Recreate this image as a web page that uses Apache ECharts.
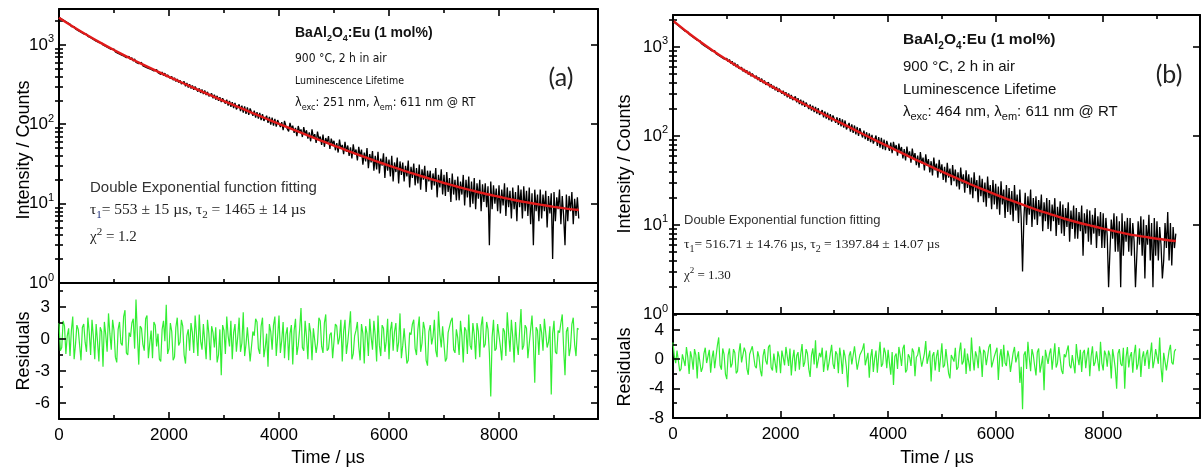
<!DOCTYPE html>
<html><head><meta charset="utf-8">
<script src="https://cdn.jsdelivr.net/npm/echarts@6.0.0/dist/echarts.min.js"></script>
<style>html,body{margin:0;padding:0;background:#fff}#c{width:1203px;height:471px}</style>
</head><body><div id="c"></div>
<script>
// ---------------- data ----------------
const stepUs = 25; // sampling step of the measured traces (µs)

// (a) measured decay (counts), t = 0, 25, 50 ... µs
const decayA = [
 2230,2120,2110,2000,2010,1900,1910,1810,1830,1700,
 1680,1700,1590,1620,1510,1545,1440,1470,1375,1400,
 1365,1280,1300,1230,1250,1170,1190,1115,1140,1070,
 1040,1060,995,1025,955,985,915,945,875,905,
 885,815,850,780,820,750,785,725,755,690,
 680,715,650,690,625,665,600,635,580,610,
 600,545,575,525,555,505,535,490,515,470,
 460,490,445,470,425,455,410,440,395,420,
 410,375,400,360,385,345,372,335,358,322,
 315,345,300,332,290,320,282,308,272,298,
 292,258,283,248,275,240,266,233,256,225,
 220,245,212,236,204,228,197,219,190,212,
 210,182,204,172,197,166,190,160,186,154,
 152,178,146,172,140,168,135,163,131,158,
 150,128,148,121,142,118,139,113,134,110,
 108,128,104,124,99,121,96,117,93,113,
 112,92,106,84,110,95,100,81,104,88,
 96,78,90,71,95,80,86,69,92,74,
 84,66,79,61,86,68,75,58,81,64,
 70,55,74,52,67,58,71,49,66,56,
 62,47,58,44,64,49,55,42,60,45,
 54,40,51,37,56,42,48,35,52,39,
 48,31,44,34,50,28,42,33,46,26,
 40,27,45,24,37,30,43,21,39,26,
 36,22,40,19,33,25,38,18,34,23,
 33,19,30,22,35,16,29,21,32,17,
 28,18,31,15,27,20,30,14,26,19,
 26,15,24,17,28,12,23,16,27,13,
 23,12.5,25,14,21,10.5,24,13,20,11,
 22,11,19,13,23,9.5,20,12,22,9,
 19,10,21,8.5,18,11.5,20,8,17.5,10.5,
 18,9,16.5,3.0,19,8.5,17,10,15.5,8,
 17,7.5,15,9.5,18,7,16,9,14.5,6.5,
 16,8.5,14,6,17,9,15,6.5,16.5,8,
 14.5,7,16,5.5,13.5,3.0,15,8,13,6,
 15,6.5,13,8,14.5,5,12.5,7.5,13.5,2.0,
 14,6,12,8.5,15,5.5,12.5,7,3.0,13,
 6,12.5,8,14,5.5,11.5,7,12,6.5
];
// (a) fitted double-exponential curve
const fitTimesA = [0,250,500,750,1000,1250,1500,1750,2000,2250,2500,2750,3000,3250,3500,3750,4000,4250,4500,4750,5000,5250,5500,5750,6000,6250,6500,6750,7000,7250,7500,7750,8000,8250,8500,8750,9000,9250,9450];
const fitA = [2200,1702,1338,1067,861,701,576,477,396,331,277,233,196,166,140,119,101,86,73.4,62.8,53.8,46.3,40.0,34.6,30.1,26.3,23.2,20.5,18.2,16.3,14.7,13.3,12.2,11.2,10.4,9.7,9.1,8.6,8.3];
// (a) residuals
const residA = [
 1.5,-1.1,-0.8,1.7,1.2,-1.4,0.3,1.0,-1.6,0.8,2.1,-1.9,-0.5,1.3,0.9,-0.6,-2.0,1.1,1.4,-0.3,
 -1.2,2.0,0.6,-1.5,1.8,0.2,-1.9,1.4,-0.2,-2.1,1.1,0.7,-2.6,1.6,0.4,-1.2,2.4,0.5,-1.0,1.8,
 0.8,-1.7,-2.2,0.9,1.6,-0.4,-0.6,2.1,2.7,-1.3,-1.5,0.6,0.2,1.5,1.9,-0.9,3.7,0.4,-2.4,1.2,
 1.0,-0.5,-1.1,1.9,2.2,-1.8,-0.4,0.8,-1.8,1.6,1.3,-0.7,0.5,-1.9,-2.1,0.9,1.7,-0.2,3.2,-1.4,
 -0.9,1.5,0.7,-2.0,-1.7,1.1,2.0,-0.6,-0.3,1.8,1.2,-1.5,-2.3,0.3,0.9,-1.1,1.5,0.6,-1.3,2.2,
 0.4,-1.6,2.3,-0.2,-1.0,1.4,-0.2,-1.9,1.8,0.5,-2.0,1.2,0.6,-0.8,1.1,-2.2,-1.5,0.9,-3.4,1.3,
 0.8,-1.4,2.1,0.3,-0.7,1.7,-1.9,0.6,1.4,-1.2,0.2,2.0,-1.2,-0.4,2.5,-1.6,-0.5,1.1,1.0,-2.1,
 -2.2,0.7,0.3,1.9,1.6,-0.9,-1.4,1.2,2.0,-1.7,-0.8,0.5,-2.6,1.4,0.7,-1.0,1.3,2.1,-1.6,0.2,
 2.2,-1.3,-0.1,1.6,-1.8,0.4,1.1,-2.0,0.5,1.3,-2.4,0.8,1.9,-1.5,-0.6,0.9,2.9,-0.8,-1.1,1.7,
 0.2,-1.9,1.5,0.6,-2.0,1.0,0.9,-1.3,-0.4,2.0,1.7,-0.7,-1.3,1.5,2.3,-1.1,-0.9,0.4,0.6,-1.8,
 -1.7,1.4,1.2,-0.5,0.1,1.8,-2.1,0.7,1.8,-1.4,-0.3,1.1,2.6,-1.9,-1.4,0.3,0.8,1.6,-0.7,-2.0,
 1.4,0.5,-2.3,1.2,0.5,-1.6,1.9,0.2,-1.0,1.7,0.3,-2.1,2.2,-0.6,-1.6,1.3,1.0,-1.2,-0.2,1.9,
 -1.9,0.8,1.6,-1.1,0.7,1.5,-1.2,-0.3,2.4,-1.8,-0.6,1.0,1.1,-2.3,-2.0,0.6,0.4,1.4,1.8,-0.9,
 -1.5,0.9,2.1,-1.2,-0.4,1.6,0.9,-2.0,-2.5,0.7,1.3,-0.5,0.2,1.8,-1.1,-1.7,2.6,0.4,-0.8,1.2,
 1.2,-2.1,-1.8,0.6,0.6,1.7,2.0,-1.0,-1.3,0.9,0.1,-1.5,1.7,0.3,-2.2,1.1,0.8,-1.4,2.3,-0.6,
 -1.0,1.5,0.4,-1.9,1.5,0.7,-1.7,1.2,2.1,-0.8,-0.5,1.6,0.9,-1.3,-5.4,0.2,1.8,-1.1,-0.9,1.4,
 1.3,-0.7,-2.0,1.0,0.7,-1.6,2.5,0.5,-1.2,1.8,0.2,-2.2,1.6,-0.4,-1.5,0.8,2.8,-1.0,-0.6,1.3,
 1.0,-1.8,-1.9,0.9,2.2,-0.3,-4.1,1.1,0.8,-1.5,1.4,0.6,-1.1,1.9,2.0,-0.8,-0.3,1.2,-5.2,0.5,
 1.7,-1.2,-1.4,0.8,0.6,1.5,2.3,-0.9,-3.4,0.7,1.1,-1.6,-0.8,1.4,2.0,-0.5,-1.6,1.0,0.9
];

// (b) measured decay
const decayB = [
 2000,1880,1890,1780,1790,1680,1690,1590,1600,1500,
 1465,1480,1385,1410,1315,1340,1250,1270,1185,1205,
 1175,1095,1120,1040,1065,990,1015,945,970,900,
 880,905,840,865,800,825,765,790,730,755,
 745,680,720,650,690,620,660,595,635,570,
 555,590,530,565,510,545,490,525,468,500,
 490,445,475,425,455,405,440,392,420,375,
 368,400,352,382,340,365,325,355,312,340,
 335,298,322,284,310,272,300,262,288,252,
 245,278,238,265,228,255,220,248,212,238,
 232,200,226,192,218,185,212,178,205,172,
 168,195,162,188,156,182,150,176,145,170,
 165,140,162,133,158,128,153,124,149,118,
 116,140,112,135,108,131,104,126,100,122,
 118,96,115,92,110,88,107,85,103,82,
 80,101,77,97,74,95,71,91,69,88,
 88,68,84,64,86,70,79,60,82,66,
 75,56,71,53,76,58,67,50,72,55,
 64,47,60,44,66,49,57,41,62,46,
 55,39,52,36,57,41,49,34,54,38,
 48,32,45,30,50,34,43,28,47,31,
 42,27,39,25,44,29,37,23,41,26,
 37,22,34,20,39,24,32,18,36,21,
 33,18,30,16,35,20,28,15,32,17,
 29,15,27,13,31,17,25,12,28,14,
 26,13,24,11,28,14.5,22,10.5,25,12,
 3.0,12,23,10,21,13,25,9.5,20,11.5,
 21,10,19,12.5,22,8.5,18,11,20,9,
 19,8.5,17,11,20,7.5,16,10,18.5,8,
 17,7.5,15.5,9.5,18,6.5,14.5,9,16.5,7,
 15.5,7,14,8.5,16.5,4.5,13.5,8,15,6.5,
 14.5,6,13,8,15.5,5.5,12.5,7.5,14,5.5,
 13.5,5.5,12,7.5,2.0,5,11.5,7,13.5,5,
 12.5,5,11,2.0,13.5,4.5,11,6.5,12,5,
 12,4.5,10.5,6.5,2.0,4.5,11,6,12.5,4.5,
 11.5,2.5,10,6,13,4,10.5,2.0,12,4.5,
 11,4,9.5,6,2.5,4,10.5,5.5,14,4,
 10.5,3.5,9.5,5.5,8
];
const fitTimesB = [0,250,500,750,1000,1250,1500,1750,2000,2250,2500,2750,3000,3250,3500,3750,4000,4250,4500,4750,5000,5250,5500,5750,6000,6250,6500,6750,7000,7250,7500,7750,8000,8250,8500,8750,9000,9250,9350];
const fitB = [1970,1489,1148,900,716,577,469,384,317,262,218,182,152,128,107,90.3,76.2,64.5,54.6,46.5,39.7,34.0,29.2,25.3,21.9,19.2,16.9,14.9,13.3,11.9,10.8,9.9,9.1,8.4,7.8,7.4,7.0,6.7,6.6];
const residB = [
 2.3,0.4,-0.5,1.2,1.1,-1.6,-1.3,0.7,0.6,-0.9,1.7,0.3,-2.0,1.1,0.2,-1.4,1.4,0.6,-2.6,1.0,
 0.9,-1.7,-1.1,0.8,1.6,-0.5,-0.3,1.3,-1.8,0.2,1.2,-1.2,0.4,1.9,3.0,-0.8,-1.4,1.5,0.7,-2.0,
 -2.7,0.6,1.5,-1.1,-0.6,1.4,0.9,-1.9,-1.6,0.9,2.2,-0.4,-0.2,1.6,1.0,-1.3,-2.1,0.7,0.5,1.8,
 1.8,-0.9,-1.2,1.1,0.3,-1.5,-2.3,0.5,1.4,-0.2,-0.7,1.7,2.0,-1.1,-1.5,0.8,0.6,-1.8,1.1,0.3,
 -1.9,1.2,0.2,-0.8,1.7,0.4,-0.9,1.5,-2.2,0.1,1.3,-1.6,0.5,1.0,-1.4,0.7,2.1,-1.0,-0.4,1.4,
 0.8,-1.3,-2.4,0.6,1.5,-0.7,2.6,-1.2,-1.1,0.9,0.3,1.6,-1.7,-0.2,1.2,-1.5,-0.5,0.8,2.0,-0.6,
 -1.3,1.1,0.7,-1.9,1.6,0.2,-2.0,1.3,0.4,-1.1,-3.8,0.5,1.1,-0.7,-0.8,1.8,1.9,-1.4,-1.6,0.6,
 0.5,1.4,2.2,-0.8,-1.0,0.9,-2.5,0.3,1.4,-1.7,0.1,1.2,-1.8,0.5,2.4,-1.0,-0.6,1.6,0.9,-1.2,
 1.3,-0.5,-2.1,1.0,-3.5,0.4,0.8,-1.3,1.7,0.6,-0.9,1.5,2.0,-1.8,-1.4,0.7,0.3,-0.9,1.5,1.0,
 -2.3,0.3,0.6,1.7,1.9,-1.0,-1.2,0.8,2.5,-0.6,-0.4,1.2,-3.0,0.5,1.0,-1.5,0.4,1.3,-1.7,0.2,
 2.2,-1.1,-0.8,1.4,1.2,-1.9,-2.6,0.6,0.7,-0.3,1.6,-1.4,-1.1,1.0,2.3,-0.7,-0.3,1.5,-2.0,0.8,
 0.9,-1.6,3.0,0.2,-1.5,1.1,0.4,-1.2,1.8,0.7,-2.4,1.3,1.0,-0.8,-0.6,1.7,2.1,-1.1,-1.3,0.4,
 0.5,1.6,-2.8,0.3,1.4,-1.0,2.0,-0.5,-0.9,1.2,0.3,-1.7,-1.9,0.9,1.7,-0.4,-0.2,1.1,-3.2,-1.0,
 -6.8,0.6,1.1,-1.3,2.4,0.2,-1.6,1.4,0.6,-0.9,-2.2,1.0,1.5,-1.8,-0.7,0.5,-4.2,1.3,1.2,-0.6,
 0.8,1.5,-1.4,0.4,2.2,-1.1,-0.5,1.7,1.6,-1.5,-2.0,0.7,0.3,1.2,1.9,-0.8,-1.2,0.6,0.7,-1.9,
 2.1,0.3,-0.8,1.3,-1.7,0.9,1.3,-1.2,0.5,1.6,-2.3,0.4,1.8,-0.9,-0.4,1.1,1.0,-1.6,2.4,-0.5,
 -1.5,1.2,0.6,-1.0,1.2,0.5,-2.6,1.4,0.2,-1.3,-4.0,0.8,1.4,-0.6,-0.9,1.6,-4.0,0.3,1.7,-1.1,
 0.4,1.0,-1.8,0.7,2.0,-1.4,-0.6,1.5,-2.4,0.2,1.1,-0.9,0.7,1.3,-1.3,0.6,2.3,-1.2,-0.2,1.4,
 1.5,-0.6,3.0,-1.1,-3.1,0.9,0.8,-1.5,-1.6,1.2,2.0,-0.4,-0.7,1.1,1.4
];

// axis ticks / labels
const timeLabels = [0,2000,4000,6000,8000];
const timeMinor = [1000,3000,5000,7000,9000];
const logLabels = [1,10,100,1000];
const logMinorTicks = [2,3,4,5,6,7,8,9,20,30,40,50,60,70,80,90,200,300,400,500,600,700,800,900,2000];
const residLabelsA = [-6,-3,0,3];
const residMinorA = [-4.5,-1.5,1.5,4.5];
const residLabelsB = [-8,-4,0,4];
const residMinorB = [-6,-2,2,6];

// ---------------- chart ----------------
const FONT = '"Liberation Sans", Arial, sans-serif';
const SERIF = '"Liberation Serif", "Times New Roman", serif';
const TIME_MAX = 9800;

const grid = [
  {left:59, top:9, width:539, height:274},
  {left:59, top:283, width:539, height:136},
  {left:673, top:15, width:527, height:299},
  {left:673, top:314, width:527, height:104}
].map(g => Object.assign({show:false, containLabel:false, outerBoundsMode:'none'}, g));

const xAxis = [], yAxis = [];
const lineOn = () => ({show:true, onZero:false, lineStyle:{color:'#000', width:2}});
const tk = (len, extra) => Object.assign({show:true, inside:true, length:len, lineStyle:{color:'#000', width:1.6}}, extra || {});

function addX(gi, position, opts) {
  xAxis.push(Object.assign({gridIndex:gi, type:'value', min:0, max:TIME_MAX, position, interval:2000,
    splitLine:{show:false}, axisLine:lineOn(), axisTick:{show:false}, axisLabel:{show:false}}, opts));
  return xAxis.length - 1;
}
function frameX(gi, labelled) {
  const main = addX(gi, 'bottom', {
    axisLabel: labelled ? {show:true, customValues:timeLabels, formatter:v => String(v), fontSize:17, color:'#000', fontFamily:FONT, margin:8} : {show:false}});
  addX(gi, 'top', {});
  return main;
}
function addY(gi, position, opts) {
  yAxis.push(Object.assign({gridIndex:gi, position, splitLine:{show:false}, axisLine:lineOn(), axisTick:{show:false}, axisLabel:{show:false}}, opts));
  return yAxis.length - 1;
}
const logLabel = {show:true, customValues:logLabels, margin:5,
  formatter: v => '{b|10}{s|' + Math.round(Math.log10(v)) + '}',
  rich:{b:{fontSize:17, fontFamily:FONT, color:'#000', lineHeight:22}, s:{fontSize:11, fontFamily:FONT, color:'#000', verticalAlign:'top', lineHeight:12}}};
function frameLogY(gi, max) {
  const base = {type:'log', logBase:10, min:1, max};
  const main = addY(gi, 'left', Object.assign({}, base, {axisTick:tk(7, {customValues:logLabels}), axisLabel:logLabel}));
  addY(gi, 'right', Object.assign({}, base, {axisTick:tk(7, {customValues:logLabels})}));
  addY(gi, 'left', Object.assign({}, base, {axisLine:{show:false}, axisTick:tk(4, {customValues:logMinorTicks})}));
  addY(gi, 'right', Object.assign({}, base, {axisLine:{show:false}, axisTick:tk(4, {customValues:logMinorTicks})}));
  return main;
}
function frameResY(gi, min, max, labels) {
  const base = {type:'value', min, max};
  const lab = {show:true, customValues:labels, margin:9, fontSize:17, fontFamily:FONT, color:'#000'};
  const main = addY(gi, 'left', Object.assign({}, base, {axisLabel:lab}));
  addY(gi, 'right', Object.assign({}, base));
  return main;
}

const xa0 = frameX(0, false);
const xa1 = frameX(1, true);
const xb0 = frameX(2, false);
const xb1 = frameX(3, true);
const ya0 = frameLogY(0, 2830);
const ya1 = frameResY(1, -7.5, 5.25, residLabelsA);
const yb0 = frameLogY(2, 2280);
const yb1 = frameResY(3, -8, 6.2, residLabelsB);

// tick marks placed through the axes' own scales (api.coord)
function tickSeries(xIdx, yIdx, xRef, yRef, items, sides) {
  return {type:'custom', xAxisIndex:xIdx, yAxisIndex:yIdx, silent:true, z:6, clip:false, animation:false,
    data:items,
    renderItem:(params, api) => {
      const cs = params.coordSys;
      const v = api.value(0), len = api.value(1), orient = api.value(2);
      const st = {stroke:'#000', lineWidth:1.6};
      const ch = [];
      if (orient === 0) {
        const px = Math.round(api.coord([v, yRef])[0]);
        const yb = cs.y + cs.height, yt = cs.y;
        if (sides.bottom) ch.push({type:'line', shape:{x1:px, y1:yb, x2:px, y2:yb - len}, style:st});
        if (sides.top) ch.push({type:'line', shape:{x1:px, y1:yt, x2:px, y2:yt + len}, style:st});
      } else {
        const py = Math.round(api.coord([xRef, v])[1]);
        const xl = cs.x, xr = cs.x + cs.width;
        ch.push({type:'line', shape:{x1:xl, y1:py, x2:xl + len, y2:py}, style:st});
        ch.push({type:'line', shape:{x1:xr, y1:py, x2:xr - len, y2:py}, style:st});
      }
      return {type:'group', children:ch};
    }};
}
const xTickItems = timeLabels.map(v => [v, 7, 0]).concat(timeMinor.map(v => [v, 4, 0]));
const yTickItems = (maj, mnr) => maj.map(v => [v, 7, 1]).concat(mnr.map(v => [v, 4, 1]));

const pairsStep = arr => arr.map((v, i) => [i * stepUs, v]);
const pairsT = (ts, arr) => arr.map((v, i) => [ts[i], v]);

const series = [
  {type:'line', xAxisIndex:xa0, yAxisIndex:ya0, data:pairsStep(decayA), showSymbol:false, lineStyle:{color:'#000', width:1.3}, z:2},
  {type:'line', xAxisIndex:xa0, yAxisIndex:ya0, data:pairsT(fitTimesA, fitA), smooth:0.3, showSymbol:false, lineStyle:{color:'#e01a1a', width:2.4}, z:3},
  {type:'line', xAxisIndex:xa1, yAxisIndex:ya1, data:pairsStep(residA), showSymbol:false, lineStyle:{color:'#33ee33', width:1.2}, z:2},
  {type:'line', xAxisIndex:xb0, yAxisIndex:yb0, data:pairsStep(decayB), showSymbol:false, lineStyle:{color:'#000', width:1.3}, z:2},
  {type:'line', xAxisIndex:xb0, yAxisIndex:yb0, data:pairsT(fitTimesB, fitB), smooth:0.3, showSymbol:false, lineStyle:{color:'#e01a1a', width:2.4}, z:3},
  {type:'line', xAxisIndex:xb1, yAxisIndex:yb1, data:pairsStep(residB), showSymbol:false, lineStyle:{color:'#33ee33', width:1.2}, z:2}
].map(s => Object.assign({silent:true, animation:false}, s)).concat([
  tickSeries(xa0, ya0, 0, 1, xTickItems, {top:true, bottom:true}),
  tickSeries(xa1, ya1, 0, 0, xTickItems.concat(yTickItems(residLabelsA, residMinorA)), {top:false, bottom:true}),
  tickSeries(xb0, yb0, 0, 1, xTickItems, {top:true, bottom:true}),
  tickSeries(xb1, yb1, 0, 0, xTickItems.concat(yTickItems(residLabelsB, residMinorB)), {top:false, bottom:true})
]);

function txt(x, y, text, st, extra) {
  return Object.assign({type:'text', x, y, silent:true, z:50,
    style:Object.assign({text, fill:'#111', fontFamily:FONT, fontSize:12, align:'left', verticalAlign:'middle'}, st)}, extra || {});
}
function vtxt(x, y, text, size) {
  return txt(x, y, text, {fontSize:size, align:'center', fill:'#000'}, {rotation:Math.PI/2});
}
const richHead = size => ({
  b:{fontSize:size, fontWeight:'bold', fontFamily:FONT, fill:'#111'},
  bs:{fontSize:Math.round(size*0.65), fontWeight:'bold', fontFamily:FONT, fill:'#111', verticalAlign:'bottom', padding:[0,0,-3,0]}
});
const richLam = (size, fam) => ({
  r:{fontSize:size, fontFamily:fam, fill:'#111'},
  sub:{fontSize:Math.round(size*0.75), fontFamily:fam, fill:'#111', verticalAlign:'bottom', padding:[0,0,-3,0]}
});
const richSerif = (size, subColor) => ({
  r:{fontSize:size, fontFamily:SERIF, fill:'#222'},
  sb:{fontSize:Math.round(size*0.72), fontFamily:SERIF, fill:subColor, verticalAlign:'bottom', padding:[0,0,-3,0]},
  sb2:{fontSize:Math.round(size*0.72), fontFamily:SERIF, fill:'#222', verticalAlign:'bottom', padding:[0,0,-3,0]},
  sp:{fontSize:Math.round(size*0.72), fontFamily:SERIF, fill:'#222', verticalAlign:'top', padding:[-3,0,0,0]}
});
const NARROW = '"Liberation Sans Narrow", "DejaVu Sans Condensed", "Liberation Sans", sans-serif';
const PAREN = 'Lato, "Open Sans", sans-serif';

const graphic = [
  vtxt(24, 150, 'Intensity / Counts', 18),
  vtxt(24, 351, 'Residuals', 18),
  vtxt(625, 164, 'Intensity / Counts', 18),
  vtxt(625, 367, 'Residuals', 18),
  txt(328, 458, 'Time / µs', {fontSize:18, align:'center', fill:'#000'}),
  txt(937, 458, 'Time / µs', {fontSize:18, align:'center', fill:'#000'}),
  txt(295, 33, '{b|BaAl}{bs|2}{b|O}{bs|4}{b|:Eu (1 mol%)}', {rich:richHead(14)}),
  txt(295, 59, '900 °C, 2 h in air', {fontSize:12, fontFamily:NARROW}),
  txt(295, 81, 'Luminescence Lifetime', {fontSize:10.5, fontFamily:NARROW}),
  txt(295, 103, '{r|λ}{sub|exc}{r|: 251 nm, λ}{sub|em}{r|: 611 nm @ RT}', {rich:richLam(12.5, NARROW)}),
  txt(561, 78, '(a)', {fontSize:25, fontFamily:PAREN, align:'center', fill:'#222'}),
  txt(90, 188, 'Double Exponential function fitting', {fontSize:15, fill:'#333'}),
  txt(90, 210, '{r|τ}{sb|1}{r|= 553 ± 15 µs, τ}{sb2|2}{r| = 1465 ± 14 µs}', {rich:richSerif(15.5, '#1b2c7a')}),
  txt(90, 237, '{r|χ}{sp|2}{r| = 1.2}', {rich:richSerif(15, '#222')}),
  txt(903, 40, '{b|BaAl}{bs|2}{b|O}{bs|4}{b|:Eu (1 mol%)}', {rich:richHead(15.5)}),
  txt(903, 67, '900 °C, 2 h in air', {fontSize:15}),
  txt(903, 90, 'Luminescence Lifetime', {fontSize:15}),
  txt(903, 112, '{r|λ}{sub|exc}{r|: 464 nm, λ}{sub|em}{r|: 611 nm @ RT}', {rich:richLam(15, FONT)}),
  txt(1169, 75, '(b)', {fontSize:25, fontFamily:PAREN, align:'center', fill:'#222'}),
  txt(684, 220, 'Double Exponential function fitting', {fontSize:13, fill:'#333'}),
  txt(684, 244, '{r|τ}{sb|1}{r|= 516.71 ± 14.76 µs, τ}{sb2|2}{r| = 1397.84 ± 14.07 µs}', {rich:richSerif(13.5, '#222')}),
  txt(684, 276, '{r|χ}{sp|2}{r| = 1.30}', {rich:richSerif(13, '#222')})
];

const chart = echarts.init(document.getElementById('c'));
chart.setOption({
  backgroundColor:'#fff', animation:false,
  grid, xAxis, yAxis, series, graphic
});
</script></body></html>
